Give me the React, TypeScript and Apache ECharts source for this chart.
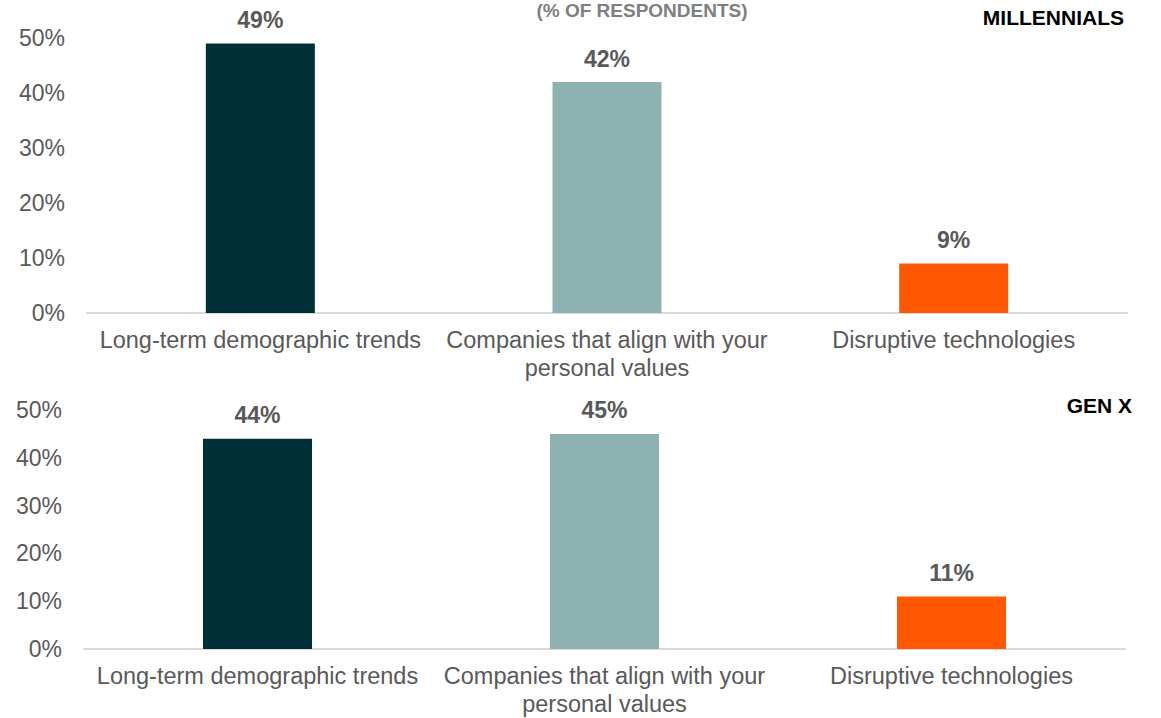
import React, { useEffect, useRef } from "react";
import * as echarts from "echarts";

const categories = [
  "Long-term demographic trends",
  "Companies that align with your\npersonal values",
  "Disruptive technologies",
];
const millennialsValues = [49, 42, 9];
const genXValues = [44, 45, 11];
const barColors = ["#002f38", "#8eb2b2", "#ff5800"];
const yTicks = [0, 10, 20, 30, 40, 50];
const panelTitles = ["MILLENNIALS", "GEN X"];
const chartTitle = "(% OF RESPONDENTS)";

export default function App() {
  const ref = useRef<HTMLDivElement>(null);
  useEffect(() => {
    document.body.style.margin = "0";
    const chart = echarts.init(ref.current!, null, { renderer: "svg" });
    const font = "Liberation Sans, Arial, sans-serif";
    const grey = "#595959";
    const makeX = (gridIndex: number) => ({
      type: "category",
      gridIndex,
      data: categories,
      axisLine: { lineStyle: { color: "#d9d9d9", width: 2 } },
      axisTick: { show: false },
      axisLabel: { color: grey, fontSize: 23.5, fontFamily: font, margin: 13, lineHeight: 28, interval: 0 },
    });
    const makeY = (gridIndex: number) => ({
      type: "value",
      gridIndex,
      min: yTicks[0],
      max: yTicks[yTicks.length - 1],
      interval: 10,
      splitLine: { show: false },
      axisLine: { show: false },
      axisTick: { show: false },
      axisLabel: { color: grey, fontSize: 23, fontFamily: font, margin: 22, formatter: "{value}%" },
    });
    const makeSeries = (values: number[], idx: number) => ({
      type: "bar",
      xAxisIndex: idx,
      yAxisIndex: idx,
      barWidth: 109,
      data: values.map((v, i) => ({ value: v, itemStyle: { color: barColors[i] } })),
      label: {
        show: true,
        position: "top",
        distance: 12,
        formatter: "{c}%",
        color: grey,
        fontSize: 23,
        fontWeight: "bold",
        fontFamily: font,
      },
    });
    chart.setOption({
      animation: false,
      backgroundColor: "#ffffff",
      grid: [
        { left: 87, width: 1040, top: 38, height: 275 },
        { left: 84, width: 1041, top: 410, height: 242 },
      ],
      xAxis: [makeX(0), makeX(1)],
      yAxis: [makeY(0), makeY(1)],
      series: [makeSeries(millennialsValues, 0), makeSeries(genXValues, 1)],
      graphic: [
        {
          type: "text",
          x: 642,
          y: 1,
          style: { text: chartTitle, fill: "#7f7f7f", font: `bold 19px ${font}`, textAlign: "center", textVerticalAlign: "top" },
        },
        {
          type: "text",
          x: 1124,
          y: 17,
          style: { text: panelTitles[0], fill: "#000000", font: `bold 21px ${font}`, textAlign: "right", textVerticalAlign: "middle" },
        },
        {
          type: "text",
          x: 1132,
          y: 405,
          style: { text: panelTitles[1], fill: "#000000", font: `bold 21px ${font}`, textAlign: "right", textVerticalAlign: "middle" },
        },
      ],
    });
    return () => chart.dispose();
  }, []);
  return <div ref={ref} style={{ width: 1161, height: 718 }} />;
}
